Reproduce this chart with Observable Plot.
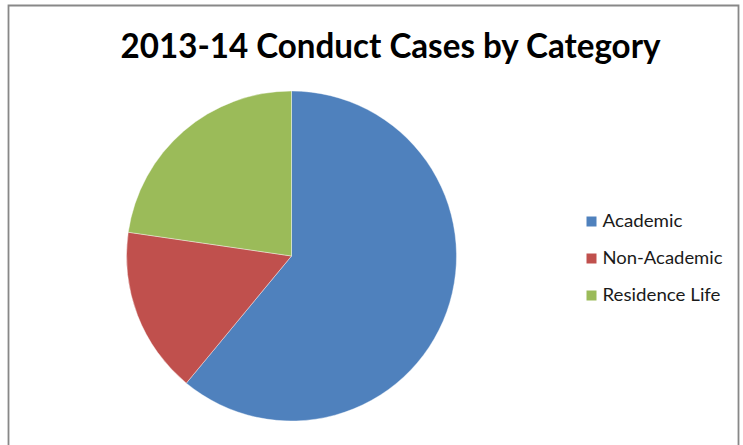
<!DOCTYPE html>
<html>
<head>
<meta charset="utf-8">
<script src="https://cdn.jsdelivr.net/npm/d3@7"></script>
<script src="https://cdn.jsdelivr.net/npm/@observablehq/plot@0.6"></script>
<style>
  html, body { margin: 0; padding: 0; background: #fff; }
  #chart { width: 743px; height: 445px; overflow: hidden; }
</style>
</head>
<body>
<div id="chart"></div>
<script>
const title = "2013-14 Conduct Cases by Category";
const categories = ["Academic", "Non-Academic", "Residence Life"];
const values = [61.0, 16.3, 22.7];
const colors = ["#4F81BD", "#C0504D", "#9BBB59"];

const data = categories.map((c, i) => ({category: c, value: values[i]}));

const W = 743, H = 445;
const pieCx = 291.5, pieCy = 256, pieR = 165;

function pieMark(rows) {
  return (index, scales) => {
    const color = scales.color || d3.scaleOrdinal(categories, colors);
    const arcs = d3.pie().sort(null).value(d => d.value)(rows);
    const arc = d3.arc().innerRadius(0).outerRadius(pieR);
    const g = d3.create("svg:g").attr("transform", `translate(${pieCx},${pieCy})`);
    g.selectAll("path").data(arcs).join("path")
      .attr("d", arc)
      .attr("fill", d => color(d.data.category))
      .attr("stroke", "#fff")
      .attr("stroke-width", 0.4);
    return g.node();
  };
}

const svg = Plot.plot({
  width: W,
  height: H,
  margin: 0,
  style: {background: "#fff", overflow: "visible"},
  y: {type: "point", domain: categories, range: [221, 295], padding: 0, axis: null},
  color: {domain: categories, range: colors},
  marks: [
    pieMark(data),
    Plot.dot(categories, {
      y: d => d, fill: d => d, symbol: "square", r: 5.64,
      frameAnchor: "left", dx: 591
    }),
    Plot.text(categories, {
      y: d => d, text: d => d, frameAnchor: "left", dx: 602, dy: 0.5,
      textAnchor: "start", fontSize: 17, fill: "#1a1a1a",
      fontFamily: "Lato, 'Open Sans', sans-serif"
    }),
    Plot.text([title], {
      text: d => d, frameAnchor: "top-left", dx: 120, dy: 33,
      textAnchor: "start", lineAnchor: "top",
      fontSize: 34, fontWeight: "bold", fill: "#000",
      fontFamily: "Lato, 'Open Sans', sans-serif"
    })
  ]
});

document.getElementById("chart").appendChild(svg);

// Fit text widths to the reference
d3.select(svg).selectAll("text").each(function() {
  const t = d3.select(this);
  const s = this.textContent;
  if (s === title) { t.attr("textLength", 540).attr("lengthAdjust", "spacingAndGlyphs"); }
  else if (s === "Non-Academic") { t.attr("textLength", 120).attr("lengthAdjust", "spacingAndGlyphs"); }
  else if (s === "Academic") { t.attr("textLength", 80).attr("lengthAdjust", "spacingAndGlyphs"); }
  else if (s === "Residence Life") { t.attr("textLength", 118).attr("lengthAdjust", "spacingAndGlyphs"); }
});

// Chart-area border (open at the bottom, as in the reference)
d3.select(svg).append("path")
  .attr("d", `M8.5,${H + 5}V5.5H738.5V${H + 5}`)
  .attr("fill", "none")
  .attr("stroke", "#888")
  .attr("stroke-width", 1.8);
</script>
</body>
</html>
